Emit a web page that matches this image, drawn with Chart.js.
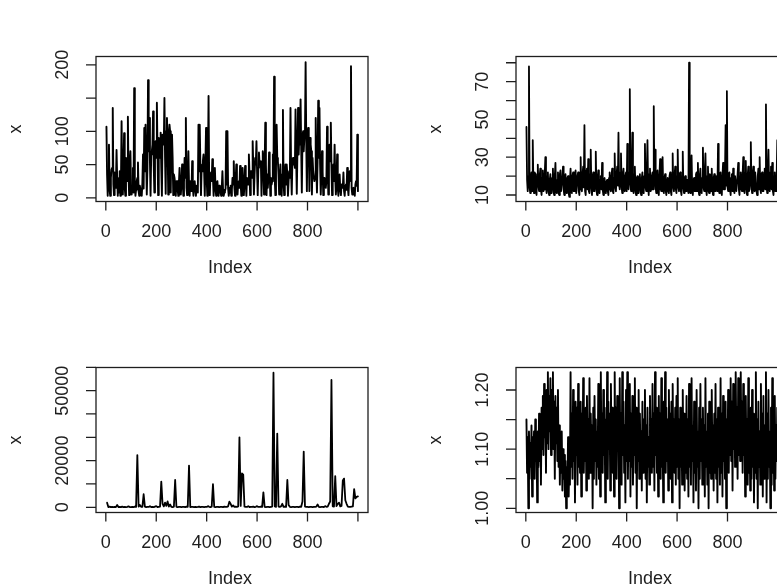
<!DOCTYPE html>
<html>
<head>
<meta charset="utf-8">
<script src="https://cdn.jsdelivr.net/npm/chart.js@4"></script>
<style>
html,body{margin:0;padding:0;background:#fff;overflow:hidden;width:777px;height:585px;}
canvas{position:absolute;}
</style>
</head>
<body>
<canvas id="c1" width="400" height="300" style="left:0px;top:0px"></canvas>
<canvas id="c2" width="400" height="300" style="left:420px;top:0px"></canvas>
<canvas id="c3" width="400" height="300" style="left:0px;top:311px"></canvas>
<canvas id="c4" width="400" height="300" style="left:420px;top:311px"></canvas>
<script>
// ---- data (samples spread evenly over Index 1..1000) ----
const seriesA = [
107,35,3,40,80,12,3,30,42,45,135,20,4,38,20,15,72,30,3,25,
8,40,3,20,115,30,5,45,97,15,3,60,35,25,122,35,4,50,70,18,
5,15,45,8,165,20,3,12,25,30,53,10,3,18,12,6,3,22,65,14,
105,40,110,60,5,45,177,70,120,55,3,65,70,80,130,50,8,75,85,60,
143,70,4,90,70,60,98,45,3,95,85,80,150,60,6,100,120,85,5,95,
110,100,8,90,95,60,4,35,30,20,3,25,25,12,3,22,45,18,5,20,
50,25,3,22,60,30,120,15,4,28,70,20,3,25,20,10,55,18,3,22,
25,12,3,18,15,8,110,40,110,50,4,45,40,55,65,40,3,50,105,30,
3,40,153,20,4,35,38,25,58,30,3,20,45,15,3,22,25,12,3,18,
8,10,3,15,40,12,3,8,10,14,100,20,100,15,3,10,8,18,3,12,
30,20,55,15,3,25,50,18,5,22,25,15,48,20,3,25,45,18,4,22,
48,25,3,30,30,20,65,35,4,40,40,30,85,45,5,35,60,50,85,40,
4,45,68,50,50,55,3,40,70,60,5,45,113,50,4,35,15,30,68,40,
3,30,20,25,65,40,182,30,4,45,110,60,55,35,5,25,50,20,3,35,
132,25,4,30,50,20,50,35,3,25,40,30,135,40,5,55,60,50,55,45,
133,60,6,70,135,65,95,80,148,75,8,90,100,70,90,95,204,85,10,90,
105,85,10,90,80,70,5,60,40,40,25,30,120,45,8,55,146,60,135,50,
5,35,70,40,4,30,30,20,15,25,107,50,5,60,80,55,113,45,4,30,
50,25,80,30,5,20,65,15,3,25,35,12,4,20,20,15,38,10,3,18,
20,12,45,15,4,25,40,30,198,15,5,12,15,8,3,20,25,18,95,10
];
const seriesB = [
46,18,12,20,78,14,11,19,22,12,39,16,11,22,21,13,10,20,26,15,
12,20,24,13,10,19,23,12,13,21,30,14,11,20,22,12,10,18,21,11,
12,19,24,12,10,20,27,13,11,18,22,11,10,21,23,12,12,19,25,13,
10,18,21,12,11,19,20,11,9,17,24,13,11,20,22,12,12,21,23,11,
11,20,22,12,10,22,30,13,12,21,25,14,47,12,10,23,24,13,29,12,
11,21,34,14,10,20,22,12,12,22,33,13,10,19,23,12,11,18,20,13,
27,13,10,18,19,12,11,17,18,12,10,19,22,13,12,20,24,12,11,19,
32,14,12,21,25,15,43,16,13,22,32,14,11,21,24,13,12,20,22,12,
37,15,13,22,66,16,12,23,43,14,11,21,25,12,10,19,20,11,12,20,
21,12,10,19,22,12,11,20,37,14,12,22,39,15,10,21,24,12,13,20,
22,13,57,15,34,14,11,21,23,12,10,20,29,13,12,22,30,13,11,19,
21,12,10,18,19,12,11,20,22,12,10,21,32,14,12,20,25,13,11,20,
34,14,12,21,22,12,10,20,33,14,11,19,20,12,12,18,18,11,80,13,
11,20,31,13,10,18,19,12,12,21,22,12,27,13,10,20,24,13,11,19,
35,14,12,22,32,13,10,20,25,12,11,21,20,12,24,13,10,19,21,12,
12,20,19,12,37,14,11,21,22,12,10,20,27,13,13,21,47,15,65,14,
12,21,22,13,10,19,21,12,24,13,11,20,20,12,12,21,27,13,10,20,
22,13,12,21,30,14,11,22,28,13,10,20,25,12,13,22,38,15,11,21,
25,13,12,22,22,12,10,20,24,13,30,14,11,21,22,12,12,21,24,13,
58,15,11,21,34,14,12,22,25,13,27,12,10,20,22,12,12,20,39,14
];
const seriesC = [
2000,100,300,50,200,80,150,60,1000,100,
200,50,300,100,150,60,200,400,100,50,
200,100,300,150,22400,300,1000,200,150,5600,
300,100,200,150,500,100,200,80,300,500,
100,200,300,11000,1500,400,2000,600,2500,300,
1200,200,100,300,11700,200,100,150,200,100,
150,200,100,300,200,17900,100,200,150,100,
200,100,150,300,100,200,150,100,200,150,
500,200,100,300,9900,200,100,150,200,100,
150,200,100,300,150,200,400,2400,1500,300,
800,200,300,150,400,30000,600,14500,14000,300,
200,150,500,100,200,150,300,100,200,500,
150,200,300,150,6400,200,100,150,200,100,
200,300,57700,400,200,31600,300,200,400,1500,
200,300,150,11700,1000,200,100,150,200,100,
150,200,100,300,200,2500,23900,300,200,150,
100,200,150,100,200,150,300,1200,200,100,
150,200,100,500,200,300,1500,2500,54600,400,
300,13400,500,1500,2000,400,600,11500,12300,3000,
1500,300,200,150,300,400,7800,3800,4500,4700
];
const seriesD = [
1.15,1.06,1.12,1.00,1.13,1.05,1.11,1.07,1.14,1.02,1.12,1.06,1.13,1.05,1.15,1.08,1.12,1.01,1.13,1.07,
1.16,1.08,1.14,1.04,1.17,1.10,1.19,1.09,1.21,1.12,1.18,1.06,1.20,1.11,1.23,1.10,1.19,1.13,1.22,1.09,
1.20,1.12,1.23,1.10,1.18,1.05,1.19,1.11,1.17,1.08,1.20,1.07,1.14,1.04,1.12,1.06,1.13,1.03,1.10,1.05,
1.09,1.02,1.08,1.00,1.07,1.03,1.12,1.02,1.08,1.04,1.23,1.07,1.16,1.05,1.20,1.08,1.15,1.01,1.18,1.09,
1.17,1.04,1.21,1.07,1.15,1.06,1.18,1.02,1.16,1.09,1.22,1.06,1.14,1.08,1.17,1.03,1.19,1.07,1.15,1.05,
1.22,1.06,1.16,1.09,1.14,1.00,1.17,1.05,1.19,1.08,1.15,1.04,1.13,1.07,1.21,1.05,1.16,1.02,1.23,1.08,
1.16,1.06,1.20,1.09,1.17,1.01,1.15,1.07,1.23,1.05,1.18,1.10,1.16,1.03,1.21,1.08,1.17,1.06,1.14,1.02,
1.23,1.08,1.17,1.05,1.19,1.10,1.15,1.00,1.22,1.07,1.16,1.04,1.23,1.09,1.18,1.06,1.14,1.01,1.20,1.08,
1.23,1.05,1.17,1.08,1.21,1.02,1.16,1.07,1.19,1.04,1.15,1.09,1.22,1.06,1.17,1.00,1.14,1.08,1.20,1.05,
1.16,1.07,1.13,1.03,1.18,1.06,1.15,1.09,1.20,1.05,1.14,1.01,1.17,1.07,1.12,1.04,1.19,1.08,1.15,1.06,
1.21,1.07,1.16,1.03,1.23,1.09,1.17,1.06,1.15,1.02,1.19,1.08,1.16,1.05,1.22,1.07,1.14,1.01,1.18,1.09,
1.23,1.06,1.17,1.08,1.15,1.03,1.20,1.07,1.16,1.05,1.18,1.01,1.21,1.09,1.15,1.06,1.17,1.04,1.19,1.07,
1.22,1.05,1.15,1.00,1.17,1.07,1.14,1.04,1.20,1.08,1.16,1.03,1.13,1.06,1.19,1.05,1.15,1.02,1.21,1.07,
1.16,1.04,1.22,1.08,1.14,1.01,1.18,1.06,1.15,1.03,1.20,1.07,1.13,1.00,1.17,1.05,1.21,1.08,1.15,1.04,
1.17,1.06,1.14,1.02,1.22,1.07,1.13,1.04,1.16,1.00,1.18,1.06,1.12,1.05,1.20,1.08,1.14,1.03,1.16,1.06,
1.21,1.05,1.15,1.01,1.17,1.07,1.13,1.04,1.22,1.06,1.16,1.02,1.19,1.08,1.14,1.05,1.18,1.00,1.15,1.07,
1.20,1.06,1.17,1.09,1.22,1.08,1.18,1.03,1.21,1.10,1.19,1.07,1.23,1.11,1.17,1.05,1.22,1.09,1.20,1.08,
1.23,1.10,1.18,1.06,1.21,1.09,1.16,1.02,1.19,1.07,1.15,1.04,1.22,1.06,1.14,1.03,1.17,1.05,1.20,1.07,
1.16,1.01,1.14,1.06,1.23,1.05,1.15,1.00,1.18,1.07,1.13,1.04,1.21,1.06,1.16,1.02,1.19,1.05,1.14,1.08,
1.23,1.01,1.16,1.05,1.20,1.07,1.13,1.00,1.17,1.04,1.22,1.06,1.15,1.03,1.19,1.05,1.14,1.08,1.17,1.10
];

// ---- tick values and labels ----
const xTicks = [0, 200, 400, 600, 800, 1000];
const xTickLabels = ['0', '200', '400', '600', '800', ''];
const yTicksA = [0, 50, 100, 150, 200];
const yLabelsA = ['0', '50', '100', '', '200'];
const yTicksB = [10, 20, 30, 40, 50, 60, 70, 80];
const yLabelsB = ['10', '', '30', '', '50', '', '70', ''];
const yTicksC = [0, 10000, 20000, 30000, 40000, 50000, 60000];
const yLabelsC = ['0', '', '20000', '', '', '50000', ''];
const yTicksD = [1.00, 1.05, 1.10, 1.15, 1.20];
const yLabelsD = ['1.00', '', '1.10', '', '1.20'];
const xTitle = 'Index';
const yTitle = 'x';

// axis ranges (R style: data range extended by 4%)
const xRange = [-38.96, 1039.96];
const yRangeA = [-5.6, 212.5];
const yRangeB = [6.56, 83.3];
const yRangeC = [-2230, 59920];
const yRangeD = [0.9929, 1.238];

const FONT = '18px "Liberation Sans", Arial, sans-serif';
const INK = '#1e1e1e';

const rAxes = {
  id: 'rAxes',
  afterDraw(chart, args, opts) {
    const ctx = chart.ctx, a = chart.chartArea;
    const xs = chart.scales.x, ys = chart.scales.y;
    ctx.save();
    ctx.strokeStyle = INK;
    ctx.lineWidth = 1.3;
    ctx.strokeRect(a.left, a.top, a.right - a.left, a.bottom - a.top);
    ctx.fillStyle = INK;
    ctx.font = FONT;
    ctx.beginPath();
    xTicks.forEach(t => {
      const px = xs.getPixelForValue(t);
      ctx.moveTo(px, a.bottom);
      ctx.lineTo(px, a.bottom + 9);
    });
    ctx.stroke();
    ctx.textAlign = 'center';
    ctx.textBaseline = 'middle';
    xTicks.forEach((t, i) => {
      if (xTickLabels[i]) ctx.fillText(xTickLabels[i], xs.getPixelForValue(t), a.bottom + 31);
    });
    ctx.beginPath();
    opts.ticks.forEach(t => {
      const py = ys.getPixelForValue(t);
      ctx.moveTo(a.left - 10, py);
      ctx.lineTo(a.left, py);
    });
    ctx.stroke();
    opts.ticks.forEach((t, i) => {
      if (!opts.labels[i]) return;
      ctx.save();
      ctx.translate(a.left - 33, ys.getPixelForValue(t));
      ctx.rotate(-Math.PI / 2);
      ctx.fillText(opts.labels[i], 0, 0);
      ctx.restore();
    });
    ctx.fillText(xTitle, (a.left + a.right) / 2 - 2, a.bottom + 66.5);
    ctx.save();
    ctx.translate(a.left - 80, (a.top + a.bottom) / 2);
    ctx.rotate(-Math.PI / 2);
    ctx.fillText(yTitle, 0, 0);
    ctx.restore();
    ctx.restore();
  }
};

function makePanel(id, values, yRange, yTicks, yLabels, width) {
  const n = values.length;
  const points = values.map((v, i) => ({ x: (i + 1) * 1000 / n, y: v }));
  new Chart(document.getElementById(id), {
    type: 'line',
    data: { datasets: [{ data: points, borderColor: '#000', borderWidth: width, borderJoinStyle: 'round', borderCapStyle: 'round', pointRadius: 0, tension: 0, fill: false }] },
    options: {
      responsive: false,
      animation: false,
      devicePixelRatio: 1,
      layout: { padding: { left: 96, right: 32, top: 56.5, bottom: 98.5 } },
      scales: {
        x: { type: 'linear', display: false, min: xRange[0], max: xRange[1] },
        y: { type: 'linear', display: false, min: yRange[0], max: yRange[1] }
      },
      plugins: {
        legend: { display: false },
        tooltip: { enabled: false },
        rAxes: { ticks: yTicks, labels: yLabels }
      }
    },
    plugins: [rAxes]
  });
}

makePanel('c1', seriesA, yRangeA, yTicksA, yLabelsA, 1.9);
makePanel('c2', seriesB, yRangeB, yTicksB, yLabelsB, 1.8);
makePanel('c3', seriesC, yRangeC, yTicksC, yLabelsC, 1.8);
makePanel('c4', seriesD, yRangeD, yTicksD, yLabelsD, 1.9);
</script>
</body>
</html>
